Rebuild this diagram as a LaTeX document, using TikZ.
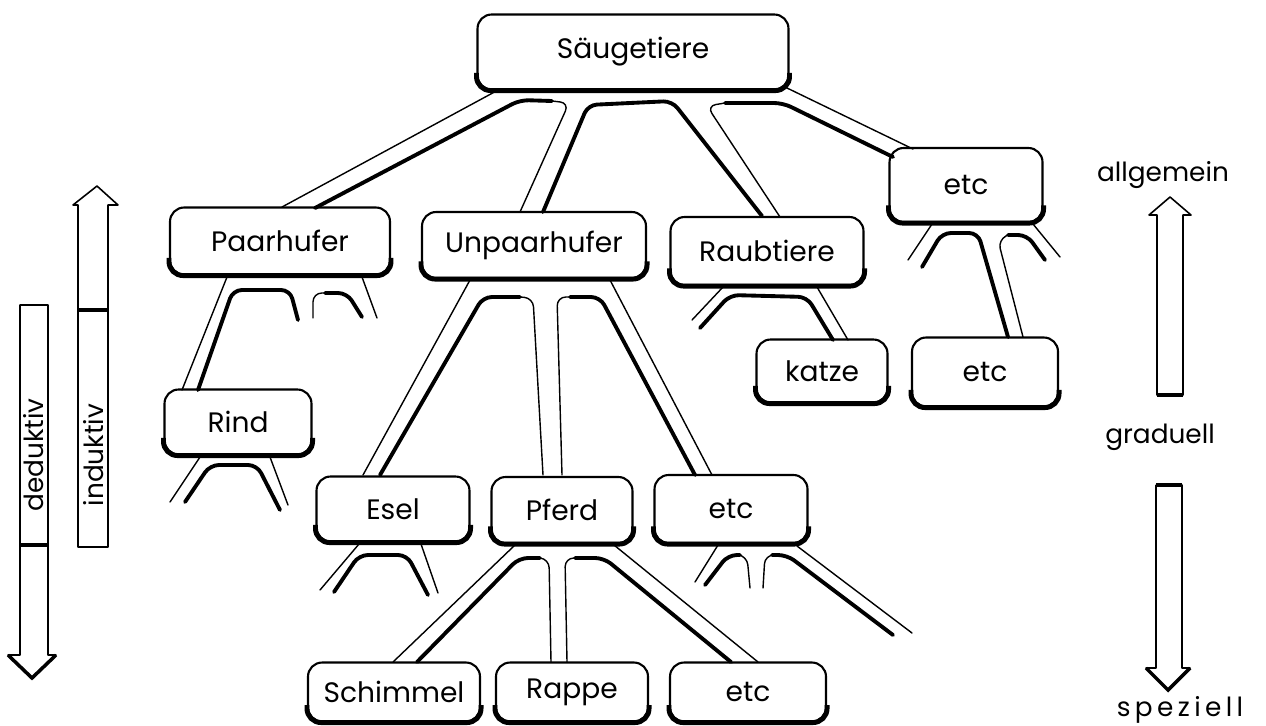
\documentclass[tikz,border=0pt]{standalone}
\usepackage{fontspec}
\setmainfont{Poppins}
\begin{document}
\begin{tikzpicture}[x=0.02cm, y=-0.02cm,
    tbox/.style={draw, line width=1.2pt, rounded corners=8pt, inner sep=0pt,
      font=\fontsize{16}{19}\selectfont},
    tshadow/.style={line width=2.8pt, rounded corners=8pt},
    thinp/.style={line width=0.8pt, rounded corners=5pt, line cap=round},
    thickp/.style={line width=2.2pt, rounded corners=5pt, line cap=round},
    bigarrow/.style={draw, line width=0.9pt, line join=round},
    sidetext/.style={font=\fontsize{15}{18}\selectfont}]
    \useasboundingbox (0,0) rectangle (1266,725);

    % Kaesten
    \node[tbox, minimum width=6.22cm, minimum height=1.5cm]  (saeuge)   at (633,52)  {Säugetiere};
    \node[tbox, minimum width=4.4cm,  minimum height=1.34cm] (paar)     at (280,241) {Paarhufer};
    \node[tbox, minimum width=4.48cm, minimum height=1.32cm] (unpaar)   at (534,245) {Unpaarhufer};
    \node[tbox, minimum width=3.86cm, minimum height=1.36cm] (raub)     at (767,251) {Raubtiere};
    \node[tbox, minimum width=3.06cm, minimum height=1.48cm] (etcA)     at (966,185) {etc};
    \node[tbox, minimum width=2.94cm, minimum height=1.3cm]  (rind)     at (238,422) {Rind};
    \node[tbox, minimum width=2.62cm, minimum height=1.26cm] (katze)    at (822,371) {katze};
    \node[tbox, minimum width=2.92cm, minimum height=1.38cm] (etcB)     at (985,372) {etc};
    \node[tbox, minimum width=3.06cm, minimum height=1.3cm]  (esel)     at (393,509) {Esel};
    \node[tbox, minimum width=2.82cm, minimum height=1.32cm] (pferd)    at (562,510) {Pferd};
    \node[tbox, minimum width=3.06cm, minimum height=1.36cm] (etcC)     at (731,509) {etc};
    \node[tbox, minimum width=3.44cm, minimum height=1.18cm] (schimmel) at (394,692) {Schimmel};
    \node[tbox, minimum width=3.04cm, minimum height=1.18cm] (rappe)    at (572,692) {Rappe};
    \node[tbox, minimum width=3.12cm, minimum height=1.18cm] (etcD)     at (748,692) {etc};

    % dicke Unterkante
    \foreach \n in {saeuge,paar,unpaar,raub,etcA,rind,katze,etcB,esel,pferd,etcC,schimmel,rappe,etcD} {
        \draw[tshadow] ([yshift=10pt]\n.south west) -- (\n.south west) -- (\n.south east) -- ([yshift=10pt]\n.south east);
    }

    % Saeugetiere -> Paarhufer, Unpaarhufer, Raubtiere, etc
    \draw[thinp] (500,89) -- (282,207);
    \draw[thickp] (315,208) -- (520,100) -- (552,101);
    \draw[thinp] (552,101) -- (569,103) -- (520,212);
    \draw[thickp] (543,212) -- (588,105) -- (672,101) -- (762,216);
    \draw[thinp] (780,217) -- (707,106) -- (725,103);
    \draw[thickp] (725,103) -- (783,103) -- (893,157);
    \draw[thinp] (787,88) -- (913,149);

    % Paarhufer -> Rind
    \draw[thinp] (227,277) -- (182,390);
    \draw[thickp] (198,390) -- (233,290) -- (290,290) -- (298,320);
    \draw[thinp] (313,318) -- (313,293) -- (325,293);
    \draw[thickp] (325,293) -- (347,293) -- (362,317);
    \draw[thinp] (362,277) -- (377,318);

    % Rind
    \draw[thinp] (200,457) -- (170,502);
    \draw[thickp] (185,502) -- (210,465) -- (257,465) -- (280,510);
    \draw[thinp] (270,457) -- (288,505);

    % Unpaarhufer -> Esel, Pferd, etc
    \draw[thinp] (470,280) -- (363,475);
    \draw[thickp] (380,475) -- (483,297) -- (520,297);
    \draw[thinp] (520,297) -- (533,298) -- (543,475);
    \draw[thinp] (562,475) -- (557,297) -- (570,297);
    \draw[thickp] (570,297) -- (600,297) -- (695,475);
    \draw[thinp] (610,280) -- (712,475);

    % Raubtiere -> katze
    \draw[thinp] (723,287) -- (692,320);
    \draw[thickp] (700,328) -- (730,295) -- (807,297) -- (833,340);
    \draw[thinp] (817,287) -- (848,340);

    % etc -> etc
    \draw[thinp] (932,224) -- (908,260);
    \draw[thickp] (922,267) -- (942,233) -- (978,233) -- (1008,337);
    \draw[thinp] (1023,337) -- (998,240) -- (1008,235);
    \draw[thickp] (1008,235) -- (1027,235) -- (1045,260);
    \draw[thinp] (1033,224) -- (1060,257);

    % Esel
    \draw[thinp] (359,544) -- (320,590);
    \draw[thickp] (334,592) -- (359,555) -- (407,555) -- (428,595);
    \draw[thinp] (421,544) -- (438,593);

    % Pferd -> Schimmel, Rappe, etc
    \draw[thinp] (515,545) -- (393,662);
    \draw[thickp] (417,662) -- (519,558) -- (540,558);
    \draw[thinp] (540,558) -- (549,559) -- (551,662);
    \draw[thinp] (567,662) -- (565,558) -- (575,558);
    \draw[thickp] (575,558) -- (604,558) -- (731,662);
    \draw[thinp] (614,545) -- (758,662);

    % etc (Mitte)
    \draw[thinp] (718,545) -- (695,582);
    \draw[thickp] (705,585) -- (728,555) -- (740,555);
    \draw[thinp] (740,555) -- (747,556) -- (750,588);
    \draw[thinp] (763,588) -- (765,555) -- (772,555);
    \draw[thickp] (772,555) -- (787,555) -- (893,635);
    \draw[thinp] (797,546) -- (912,633);

    % Pfeile links
    \draw[bigarrow] (20,305) -- (48,305) -- (48,655) -- (56,655) -- (32,678) -- (8,655) -- (20,655) -- cycle;
    \draw[line width=2pt] (8,655) -- (32,678) -- (56,655);
    \draw[line width=2pt] (20,545) -- (48,545);
    \node[sidetext, rotate=90] (dedu) at (34,455) {deduktiv};
    \draw[bigarrow] (78,547) -- (78,205) -- (73,205) -- (97,186) -- (118,205) -- (108,205) -- (108,547) -- cycle;
    \draw[line width=2pt] (78,310) -- (108,310);
    \node[sidetext, rotate=90] (indu) at (94,455) {induktiv};

    % Pfeile rechts
    \node[sidetext] (allg) at (1163,175) {allgemein};
    \draw[bigarrow] (1157,395) -- (1157,215) -- (1149,215) -- (1170,197) -- (1191,215) -- (1183,215) -- (1183,395) -- cycle;
    \draw[line width=1.8pt] (1157,395) -- (1183,395);
    \node[sidetext] (grad) at (1160,437) {graduell};
    \draw[bigarrow] (1156,485) -- (1182,485) -- (1182,668) -- (1190,668) -- (1168,690) -- (1146,668) -- (1156,668) -- cycle;
    \draw[line width=1.8pt] (1156,485) -- (1182,485);
    \draw[line width=2pt] (1146,668) -- (1168,690) -- (1190,668);
    \node[sidetext] (spez) at (1180,710) {s\,p\,e\,z\,i\,e\,l\,l};
\end{tikzpicture}
\end{document}
